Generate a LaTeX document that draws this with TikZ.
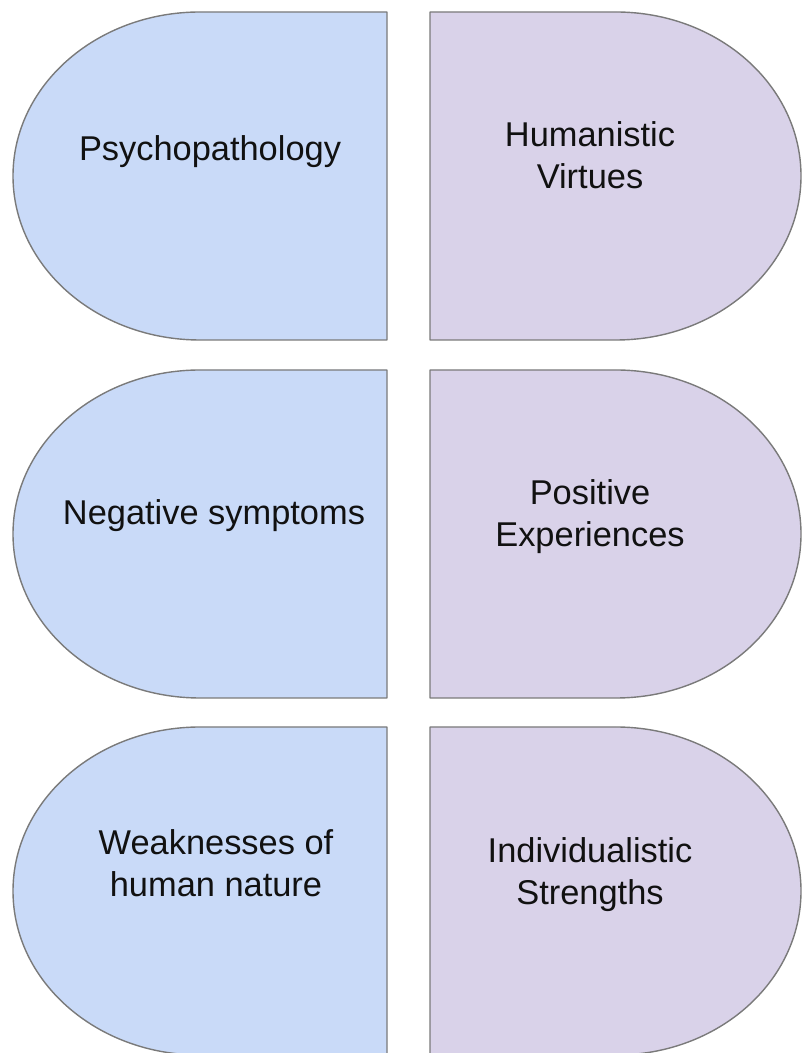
\documentclass[tikz,border=0pt]{standalone}
\usepackage{fontspec}
\setmainfont{Liberation Sans}
\definecolor{lblue}{HTML}{C9DAF8}
\definecolor{lpurple}{HTML}{D9D2E9}
\definecolor{edgegray}{HTML}{7A7A7A}
\definecolor{txt}{HTML}{111111}
\begin{document}
\begin{tikzpicture}[x=1pt,y=1pt,
  leftshape/.style={fill=lblue,draw=edgegray,line width=1.4pt,line join=round},
  rightshape/.style={fill=lpurple,draw=edgegray,line width=1.4pt,line join=round},
  label/.style={align=center,anchor=base,text=txt,inner sep=0pt,
    font=\fontsize{34.4}{41.3}\selectfont}]
\useasboundingbox (0,0) rectangle (803,1053);
\clip (0,0) rectangle (803,1053);
% row 1
\draw[leftshape] (387,1041) -- (200,1041) arc[start angle=90,end angle=270,x radius=187,y radius=164] -- (387,713) -- cycle;
\draw[rightshape] (430,1041) -- (616,1041) arc[start angle=90,end angle=-90,x radius=185,y radius=164] -- (430,713) -- cycle;
% row 2
\draw[leftshape] (387,683) -- (200,683) arc[start angle=90,end angle=270,x radius=187,y radius=164] -- (387,355) -- cycle;
\draw[rightshape] (430,683) -- (616,683) arc[start angle=90,end angle=-90,x radius=185,y radius=164] -- (430,355) -- cycle;
% row 3
\draw[leftshape] (387,326) -- (200,326) arc[start angle=90,end angle=270,x radius=187,y radius=164] -- (387,-2) -- cycle;
\draw[rightshape] (430,326) -- (616,326) arc[start angle=90,end angle=-90,x radius=185,y radius=164] -- (430,-2) -- cycle;
% labels
\node[label] (t1) at (210,892) {Psychopathology};
\node[label] (t2) at (590,864.7) {Humanistic\\Virtues};
\node[label] (t3) at (214,528) {Negative symptoms};
\node[label] (t4) at (590,506.7) {Positive\\Experiences};
\node[label] (t5) at (216,156.7) {Weaknesses of\\human nature};
\node[label] (t6) at (590,148.7) {Individualistic\\Strengths};
\end{tikzpicture}
\end{document}
